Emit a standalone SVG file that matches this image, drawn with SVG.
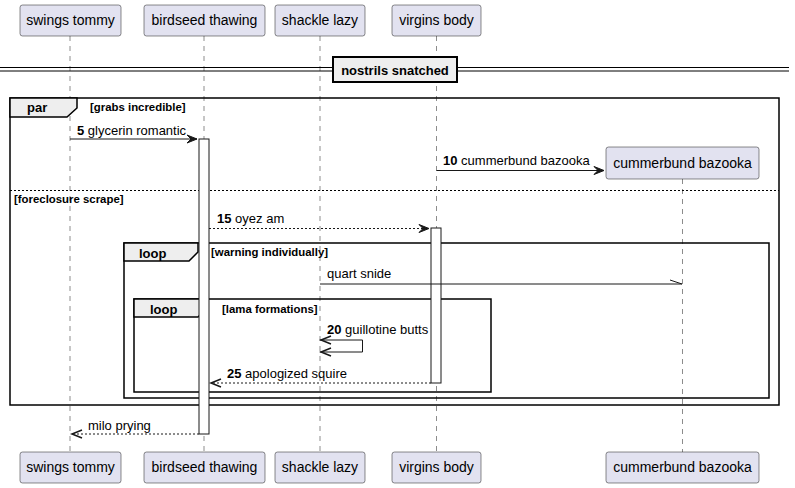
<svg xmlns="http://www.w3.org/2000/svg" width="795" height="488" viewBox="0 0 795 488">
<style>
text{font-family:"Liberation Sans",Arial,sans-serif;fill:#000}
.pt{font-size:14px;text-anchor:middle}
.pbox{fill:#E2E2F0;stroke:#181818;stroke-width:0.5}
.life{stroke:#181818;stroke-width:0.5;stroke-dasharray:5,5;fill:none}
.act{fill:#FFFFFF;stroke:#181818;stroke-width:1}
.msg{stroke:#181818;stroke-width:1;fill:none}
.dash{stroke:#181818;stroke-width:1;fill:none;stroke-dasharray:2,2}
.head{fill:#181818;stroke:#181818;stroke-width:1}
.open{fill:none;stroke:#181818;stroke-width:1.5}
.lbl{font-size:13px}
.num{font-weight:bold}
.frame{fill:none;stroke:#000;stroke-width:1.5}
.tab{fill:#EEEEEE;stroke:#000;stroke-width:1.5}
.ft{font-size:13px;font-weight:bold}
.fc{font-size:11.4px;font-weight:bold}
.sep{stroke:#000;stroke-width:1;stroke-dasharray:2,2}
</style>

<g id="lifelines">
<line class="life" x1="70" y1="36" x2="70" y2="452"/>
<line class="life" x1="204" y1="36" x2="204" y2="452"/>
<line class="life" x1="320" y1="36" x2="320" y2="452"/>
<line class="life" x1="436.5" y1="36" x2="436.5" y2="452"/>
<line class="life" x1="682.5" y1="179" x2="682.5" y2="452"/>
</g>

<g id="divider">
<line x1="0" y1="67.5" x2="789" y2="67.5" stroke="#000" stroke-width="1"/>
<line x1="0" y1="71" x2="789" y2="71" stroke="#000" stroke-width="1"/>
<rect x="333" y="57" width="124" height="25" fill="#EEEEEE" stroke="#000" stroke-width="2"/>
<text class="ft" x="395" y="75" text-anchor="middle">nostrils snatched</text>
</g>

<g id="frame-par">
<rect class="frame" x="10" y="98" width="769" height="307"/>
<path class="tab" d="M10,98 H77 V108 L67,117 H10 Z"/>
<text class="ft" x="27" y="112">par</text>
<text class="fc" x="90" y="111">[grabs incredible]</text>
<line class="sep" x1="10" y1="190.5" x2="779" y2="190.5"/>
<text class="fc" x="14" y="203">[foreclosure scrape]</text>
</g>

<g id="frame-loop-outer">
<rect class="frame" x="124" y="243" width="645" height="155"/>
<path class="tab" d="M124,243 H198 V252 L189,261 H124 Z"/>
<text class="ft" x="139" y="258">loop</text>
<text class="fc" x="211" y="256">[warning individually]</text>
</g>

<g id="frame-loop-inner">
<rect class="frame" x="134" y="299" width="357" height="93"/>
<path class="tab" d="M134,299 H207 V308 L198,317 H134 Z"/>
<text class="ft" x="150" y="314">loop</text>
<text class="fc" x="222" y="313">[lama formations]</text>
</g>

<g id="activations">
<rect class="act" x="199" y="139" width="10" height="295"/>
<rect class="act" x="431" y="228" width="10" height="155"/>
</g>

<g id="p-swings-tommy">
<rect class="pbox" x="20" y="5" width="101" height="31" rx="2.5"/>
<text class="pt" x="70.5" y="25">swings tommy</text>
<rect class="pbox" x="20" y="452" width="101" height="31" rx="2.5"/>
<text class="pt" x="70.5" y="472">swings tommy</text>
</g>
<g id="p-birdseed-thawing">
<rect class="pbox" x="144" y="5" width="121" height="31" rx="2.5"/>
<text class="pt" x="204.5" y="25">birdseed thawing</text>
<rect class="pbox" x="144" y="452" width="121" height="31" rx="2.5"/>
<text class="pt" x="204.5" y="472">birdseed thawing</text>
</g>
<g id="p-shackle-lazy">
<rect class="pbox" x="275" y="5" width="90" height="31" rx="2.5"/>
<text class="pt" x="320" y="25">shackle lazy</text>
<rect class="pbox" x="275" y="452" width="90" height="31" rx="2.5"/>
<text class="pt" x="320" y="472">shackle lazy</text>
</g>
<g id="p-virgins-body">
<rect class="pbox" x="392" y="5" width="89" height="31" rx="2.5"/>
<text class="pt" x="436.5" y="25">virgins body</text>
<rect class="pbox" x="392" y="452" width="89" height="31" rx="2.5"/>
<text class="pt" x="436.5" y="472">virgins body</text>
</g>
<g id="p-cummerbund-bazooka">
<rect class="pbox" x="606" y="147" width="153" height="32" rx="2.5"/>
<text class="pt" x="682.5" y="168">cummerbund bazooka</text>
<rect class="pbox" x="606" y="452" width="153" height="31" rx="2.5"/>
<text class="pt" x="682.5" y="472">cummerbund bazooka</text>
</g>

<g id="connectors">
<line class="msg" x1="70" y1="139" x2="197" y2="139"/>
<polygon class="head" points="187,135 197,139 187,143 191,139"/>
<text class="lbl" x="77" y="135"><tspan class="num">5</tspan> glycerin romantic</text>
<line class="msg" x1="436.5" y1="170.5" x2="604" y2="170.5"/>
<polygon class="head" points="594,166.5 604,170.5 594,174.5 598,170.5"/>
<text class="lbl" x="443" y="165"><tspan class="num">10</tspan> cummerbund bazooka</text>
<line class="dash" x1="209" y1="228.5" x2="429" y2="228.5"/>
<polygon class="head" points="419,224.5 429,228.5 419,232.5 423,228.5"/>
<text class="lbl" x="217" y="223"><tspan class="num">15</tspan> oyez am</text>
<line class="msg" x1="320" y1="284" x2="682" y2="284"/>
<line class="msg" x1="670" y1="280" x2="682" y2="284"/>
<text class="lbl" x="327" y="278">quart snide</text>
<polyline class="msg" points="320,340 362.5,340 362.5,352 320,352"/>
<polyline class="open" points="331,336 321,340 331,344"/>
<polyline class="open" points="331,348 321,352 331,356"/>
<text class="lbl" x="327" y="334"><tspan class="num">20</tspan> guillotine butts</text>
<line class="dash" x1="431" y1="383" x2="211" y2="383"/>
<polyline class="open" points="221,379 211,383 221,387"/>
<text class="lbl" x="227" y="378"><tspan class="num">25</tspan> apologized squire</text>
<line class="dash" x1="199" y1="434" x2="72" y2="434"/>
<polyline class="open" points="82,430 72,434 82,438"/>
<text class="lbl" x="88" y="430">milo prying</text>
</g>
</svg>
